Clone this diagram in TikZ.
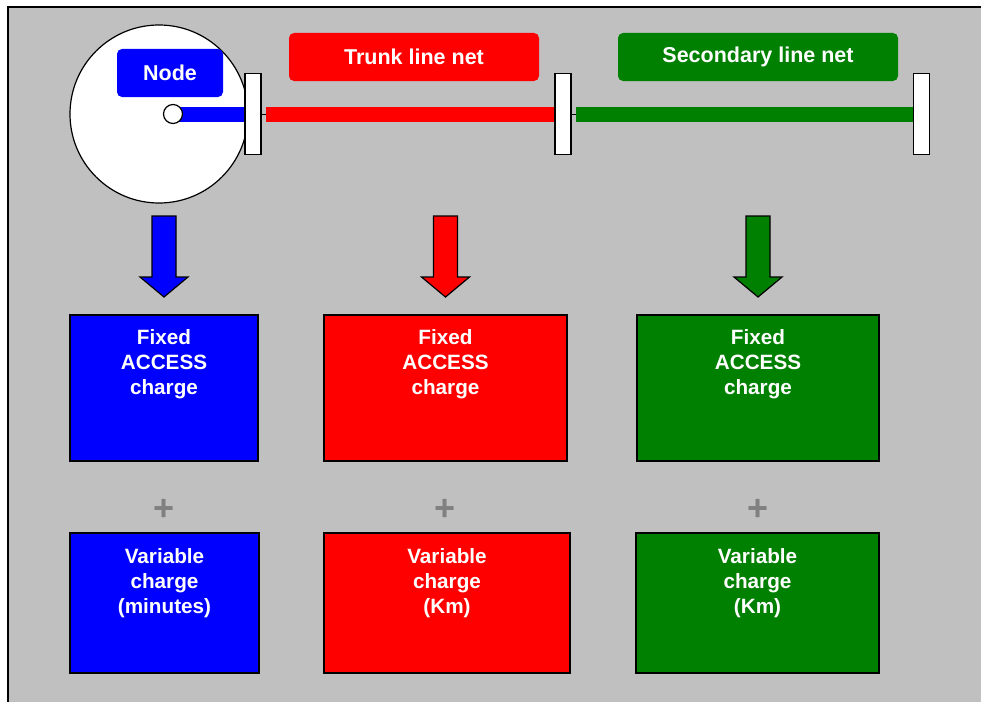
\documentclass[tikz,border=0pt]{standalone}
\usepackage{fontspec}
\setmainfont{Liberation Sans}
\usetikzlibrary{positioning}

\definecolor{netblue}{RGB}{0,0,255}
\definecolor{netred}{RGB}{255,0,0}
\definecolor{netgreen}{RGB}{0,128,0}
\definecolor{bggray}{RGB}{192,192,192}
\definecolor{plusgray}{RGB}{128,128,128}

\newcommand{\labelfont}{\bfseries\fontsize{20.7}{25}\selectfont}
\newcommand{\tagfont}{\bfseries\fontsize{21.5}{25}\selectfont}

\begin{document}
\begin{tikzpicture}[x=1pt,y=-1pt,
  tag/.style={rounded corners=5pt,text=white,font=\tagfont,inner sep=0pt},
  plate/.style={draw,fill=white,line width=1.2pt,minimum width=16pt,minimum height=81pt,inner sep=0pt},
  bar/.style={line width=15pt},
  chargebox/.style={draw,line width=1.5pt,inner sep=0pt},
  boxtext/.style={text=white,font=\labelfont,align=center,inner sep=0pt,anchor=north},
  plus/.style={text=plusgray,font=\bfseries\fontsize{36}{36}\selectfont,inner sep=0pt}]

\useasboundingbox (0,0) rectangle (981,701);
\fill[white] (0,0) rectangle (981,701);
\fill[bggray] (8,7) rectangle (990,710);
\draw[line width=1.5pt] (8,710)--(8,7)--(990,7);

% node and lines
\node[circle,draw,fill=white,line width=1.2pt,minimum size=178pt,inner sep=0pt] (site) at (159,114) {};
\node[plate] (p1) at (253,114) {};
\node[plate] (p2) at (563,114) {};
\node[plate] (p3) at (921.5,114) {};
\coordinate (hubc) at (173,114);
\draw[bar,netblue] (hubc) -- (p1.west);
\draw[line width=0.8pt] (p1.east) -- (p2.west);
\draw[line width=0.8pt] (p2.east) -- (p3.west);
\draw[bar,netred] ([xshift=4pt]p1.east) -- (p2.west);
\draw[bar,netgreen] ([xshift=4pt]p2.east) -- (p3.west);
\node[circle,draw,fill=white,line width=1.2pt,minimum size=19pt,inner sep=0pt] (hub) at (hubc) {};

\node[tag,fill=netblue,minimum width=106pt,minimum height=48pt] (nodetag) at (170,73) {Node};
\node[tag,fill=netred,minimum width=250pt,minimum height=48pt] (trunktag) at (414,57) {Trunk line net};
\node[tag,fill=netgreen,minimum width=280pt,minimum height=48pt] (sectag) at (758,57) {Secondary line net};

% charges
\foreach \name/\col/\cx/\wa/\cxb/\wb/\unit in {a/netblue/164/188/164.5/189/(minutes),
    b/netred/445.5/243/447/246/(Km), c/netgreen/758/242/757.5/243/(Km)}{
  \draw[line width=1.2pt,fill=\col] (\cx-12,216) -- (\cx+12,216) -- (\cx+12,277) -- (\cx+24,277)
    -- (\cx,297) -- (\cx-24,277) -- (\cx-12,277) -- cycle;
  \node[chargebox,fill=\col,minimum width=\wa pt,minimum height=146pt] (fix\name) at (\cx,388) {};
  \node[boxtext,below=15pt of fix\name.north] (fixtext\name) {Fixed\\ACCESS\\charge};
  \node[plus] (plus\name) at (\cx,510) {+};
  \node[chargebox,fill=\col,minimum width=\wb pt,minimum height=140pt] (var\name) at (\cxb,603) {};
  \node[boxtext,below=16pt of var\name.north] (vartext\name) {Variable\\charge\\\unit};
}

\end{tikzpicture}
\end{document}
